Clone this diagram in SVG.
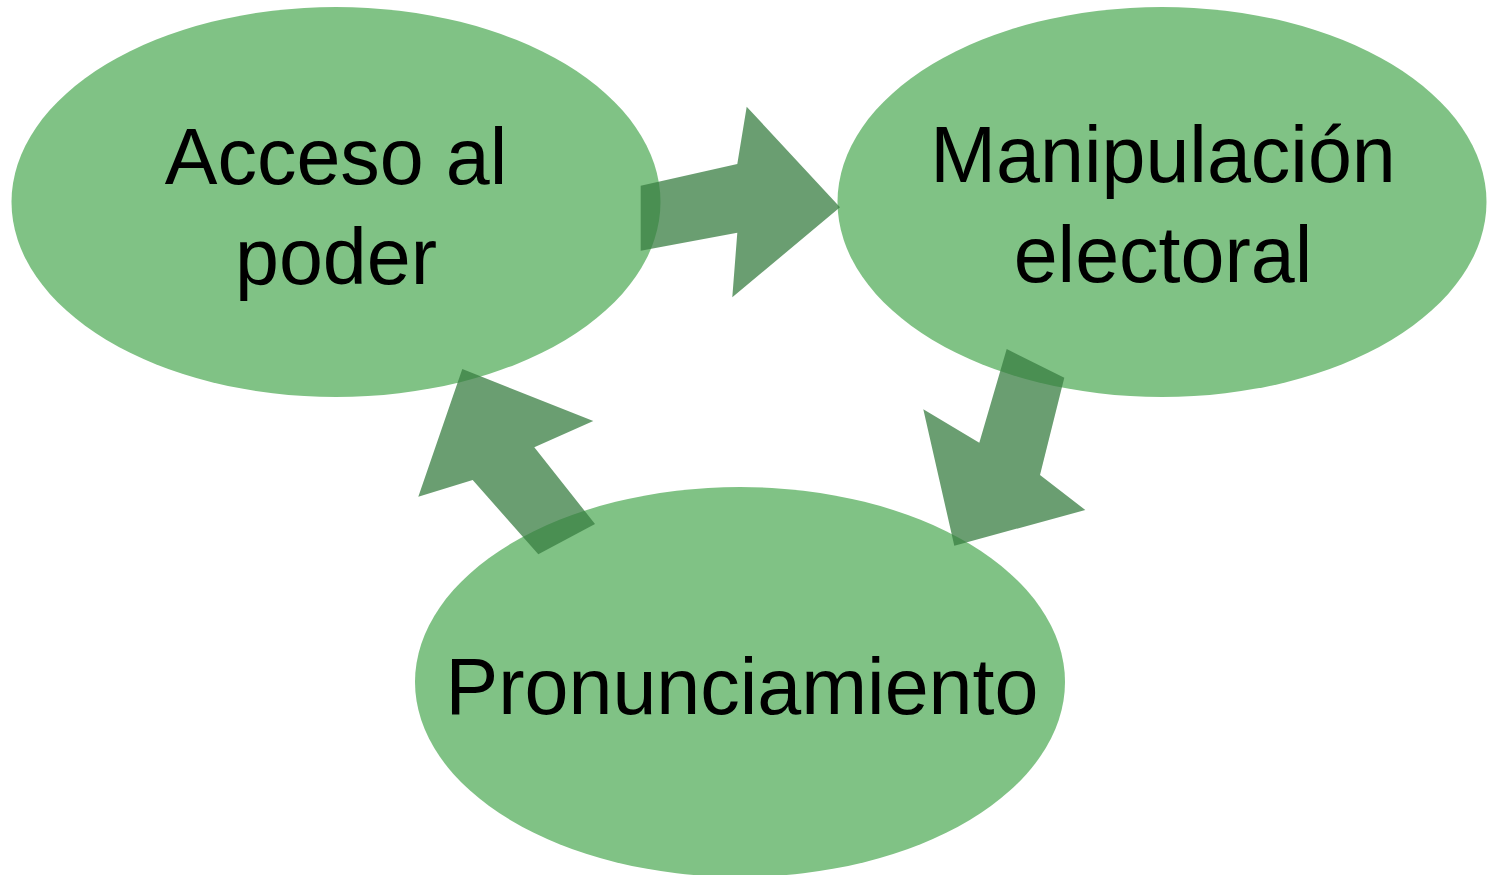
<svg xmlns="http://www.w3.org/2000/svg" width="1487" height="875" viewBox="0 0 1487 875">
<style>
.node{fill:#80c285;}
.lbl{font-family:"Liberation Sans",Arial,sans-serif;font-size:79px;fill:#000;text-anchor:middle;}
.arr{fill:#387d42;fill-opacity:0.75;}
</style>
<rect width="1487" height="875" fill="#fff"/>
<g id="node-acceso">
<ellipse class="node" cx="336" cy="202" rx="324.5" ry="195"/>
<text class="lbl" x="336" y="184">Acceso al</text>
<text class="lbl" x="336" y="284">poder</text>
</g>
<g id="node-manipulacion">
<ellipse class="node" cx="1162" cy="202" rx="324.5" ry="195"/>
<text class="lbl" x="1163" y="182">Manipulación</text>
<text class="lbl" x="1163" y="282">electoral</text>
</g>
<g id="node-pronunciamiento">
<ellipse class="node" cx="740" cy="682" rx="325" ry="195"/>
<text class="lbl" x="742" y="714">Pronunciamiento</text>
</g>
<g id="connectors">
<polygon class="arr" points="640.7,185.7 737.3,164 746.7,106.7 840,207.3 732.3,297.3 737.3,232.7 640.7,250.7"/>
<polygon class="arr" points="1006.7,349 1064.3,377.7 1040,475 1085.3,510 954.3,545.7 923.3,409.3 979.3,442.7"/>
<polygon class="arr" points="595,524 538.3,554.3 472.7,480 418.3,496.7 462.3,369 593.3,421 534.3,447.3"/>
</g>
</svg>
